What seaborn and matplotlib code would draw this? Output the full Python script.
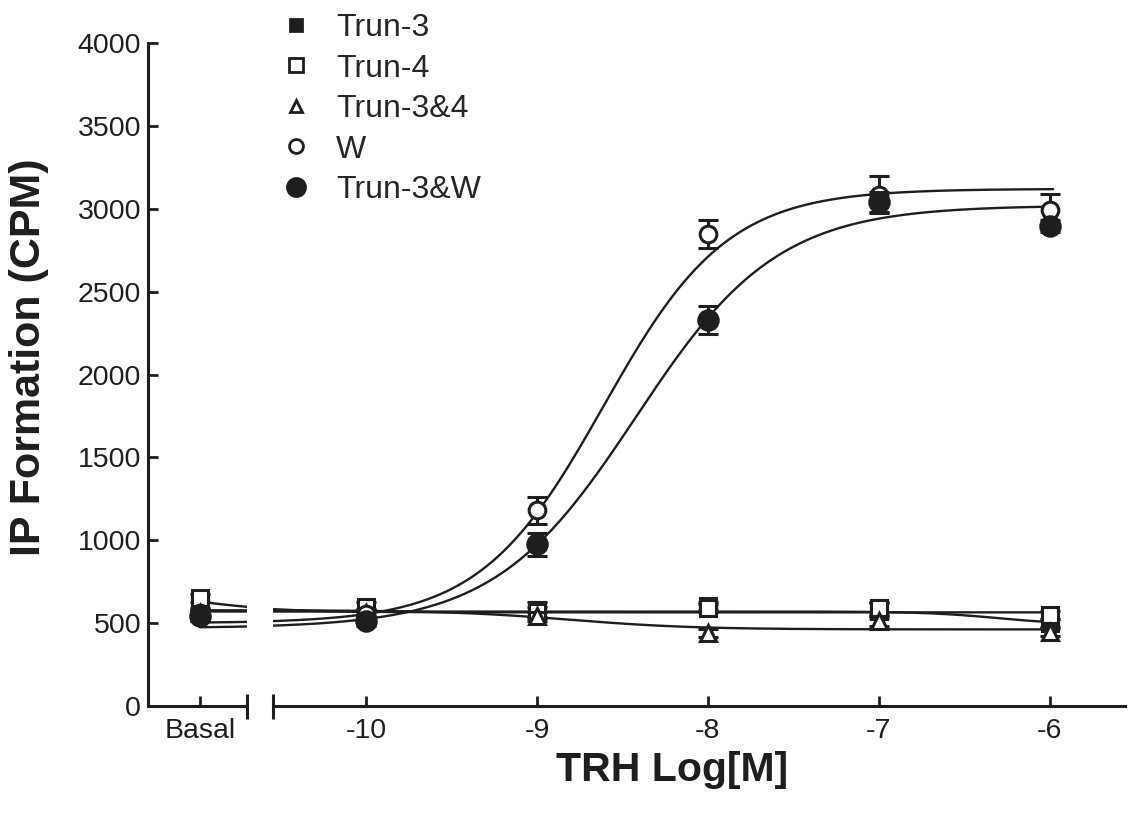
import numpy as np
import pandas as pd
import matplotlib
matplotlib.use('Agg')
import matplotlib.pyplot as plt
from matplotlib.lines import Line2D
import seaborn as sns

# x positions: Basal is drawn one decade left of -10 on its own broken segment
dose_labels = ['Basal', '-10', '-9', '-8', '-7', '-6']
dose_pos = [-11, -10, -9, -8, -7, -6]

series_names = ['Trun-3', 'Trun-4', 'Trun-3&4', 'W', 'Trun-3&W']

trun3 = [570, 560, 580, 605, 575, 500]
trun3_err = [20, 25, 50, 25, 45, 25]
trun4 = [650, 600, 565, 590, 590, 550]
trun4_err = [25, 25, 30, 25, 40, 25]
trun34 = [560, 560, 540, 440, 510, 445]
trun34_err = [20, 20, 30, 25, 30, 25]
w = [560, 555, 1180, 2850, 3085, 2995]
w_err = [25, 25, 80, 85, 110, 95]
trun3w = [540, 510, 975, 2330, 3040, 2895]
trun3w_err = [25, 25, 70, 85, 60, 35]

# fitted curve parameters: low, high, logEC50, hill
fit_low = [570, 720, 578, 500, 470]
fit_high = [490, 565, 462, 3120, 3020]
fit_ec50 = [-6.3, -11.1, -8.8, -8.61, -8.42]
fit_hill = [2.0, 1.5, 1.2, 1.2, 1.05]

values = [trun3, trun4, trun34, w, trun3w]
errors = [trun3_err, trun4_err, trun34_err, w_err, trun3w_err]
markers = ['s', 's', '^', 'o', 'o']
filled = [True, False, False, False, True]
msizes = [12, 12, 11, 12, 14]

ink = '#1e1e1e'


def logistic(x, low, high, ec, hill):
    return low + (high - low) / (1 + 10 ** ((ec - x) * hill))


sns.set_theme(style='ticks')
plt.rcParams['font.family'] = ['Liberation Sans', 'DejaVu Sans']
plt.rcParams['axes.linewidth'] = 2.2

fig = plt.figure(figsize=(11.38, 8.17), dpi=100)
bottom = 1 - 706 / 817
height = 663 / 817
ax_b = fig.add_axes([148 / 1138, bottom, 99 / 1138, height])
ax = fig.add_axes([273 / 1138, bottom, 852 / 1138, height], sharey=ax_b)

ax_b.set_xlim(-11.304, -10.725)
ax.set_xlim(-10.544, -5.56)
ax_b.set_ylim(0, 4000)

# fitted curves on both parts of the broken axis
rows = []
xs = np.linspace(-11.0, -5.98, 600)
for i, name in enumerate(series_names):
    ys = logistic(xs, fit_low[i], fit_high[i], fit_ec50[i], fit_hill[i])
    rows.append(pd.DataFrame({'x': xs, 'y': ys, 'series': name}))
curves = pd.concat(rows, ignore_index=True)
for a in (ax_b, ax):
    sns.lineplot(data=curves, x='x', y='y', units='series', estimator=None,
                 color=ink, linewidth=1.7, legend=False, ax=a, zorder=2,
                 sort=False)

# data points with error bars
for i, name in enumerate(series_names):
    fc = ink if filled[i] else 'white'
    for a, sl in ((ax_b, slice(0, 1)), (ax, slice(1, 6))):
        a.errorbar(dose_pos[sl], values[i][sl], yerr=errors[i][sl],
                   fmt=markers[i], ms=msizes[i], mfc=fc, mec=ink, mew=2.2,
                   ecolor=ink, elinewidth=2.2, capsize=7, capthick=2.6,
                   color=ink, zorder=3 + i, clip_on=False)

for a in (ax_b, ax):
    a.set_xlabel('')
    a.set_ylabel('')
    a.spines['top'].set_visible(False)
    a.spines['right'].set_visible(False)
    a.spines['bottom'].set_color(ink)
    a.spines['left'].set_color(ink)
    a.tick_params(direction='in', length=7, width=2, colors=ink,
                  labelsize=20.5, pad=9)

ax.spines['left'].set_visible(False)
ax.tick_params(axis='y', left=False, labelleft=False)

ax_b.set_yticks(np.arange(0, 4001, 500))
ax_b.set_yticklabels([str(v) for v in range(0, 4001, 500)])
ax_b.tick_params(axis='y', pad=5)
ax_b.set_xticks([dose_pos[0]])
ax_b.set_xticklabels([dose_labels[0]])
ax.set_xticks(dose_pos[1:])
ax.set_xticklabels(dose_labels[1:])

# end caps where the x axis is broken
ax_b.plot([1], [0], marker='|', ms=18, mew=2.2, color=ink,
          transform=ax_b.transAxes, clip_on=False)
ax.plot([0], [0], marker='|', ms=18, mew=2.2, color=ink,
        transform=ax.transAxes, clip_on=False)

ax_b.set_ylabel('IP Formation (CPM)', fontsize=31, fontweight='bold',
                color=ink)
ax_b.yaxis.set_label_coords(-1.0, 0.526)
fig.text(672 / 1138, 1 - 770 / 817, 'TRH Log[M]', fontsize=29.5,
         fontweight='bold', color=ink, ha='center', va='center')

handles = []
for i in range(5):
    fc = ink if filled[i] else 'white'
    handles.append(Line2D([], [], marker=markers[i], linestyle='none',
                          ms=[9, 10, 9, 10, 13][i], mfc=fc, mec=ink,
                          mew=2, color=ink))
fig.legend(handles, series_names, loc='upper left',
           bbox_to_anchor=(280 / 1138, 1 - 13 / 817), frameon=False,
           fontsize=23, handlelength=1.0, handletextpad=0.75,
           labelspacing=0.33, borderaxespad=0, borderpad=0)

fig.savefig('out.png', dpi=100, facecolor='white')
